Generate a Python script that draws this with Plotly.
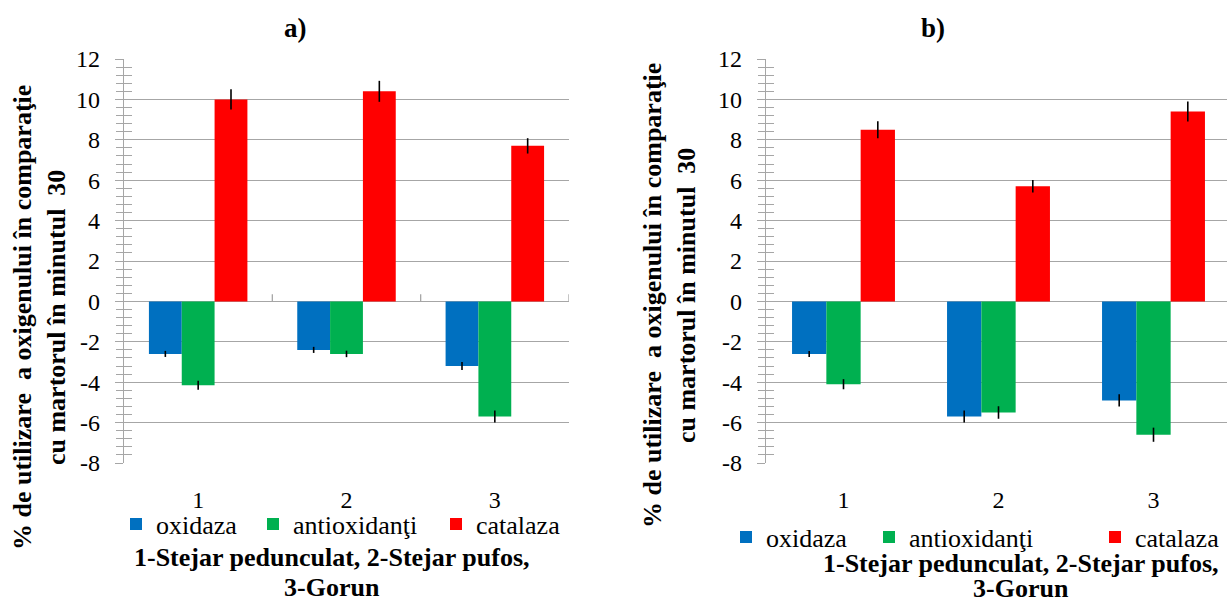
import plotly.graph_objects as go

# ---------------- data ----------------
categories = [1, 2, 3]
category_labels = ["1", "2", "3"]
series_names = ["oxidaza", "antioxidanţi", "catalaza"]
series_colors = ["#0070C0", "#00B050", "#FF0000"]

# panel a)
a_oxidaza = [-2.6, -2.4, -3.2]
a_antiox = [-4.15, -2.6, -5.7]
a_catalaza = [10.0, 10.4, 7.7]
a_err_oxidaza = [0.15, 0.15, 0.2]
a_err_antiox = [0.22, 0.16, 0.3]
a_err_catalaza = [0.5, 0.52, 0.38]

# panel b)
b_oxidaza = [-2.6, -5.7, -4.9]
b_antiox = [-4.1, -5.5, -6.6]
b_catalaza = [8.5, 5.7, 9.4]
b_err_oxidaza = [0.15, 0.3, 0.3]
b_err_antiox = [0.25, 0.31, 0.35]
b_err_catalaza = [0.42, 0.31, 0.5]

y_tick_vals = [12, 10, 8, 6, 4, 2, 0, -2, -4, -6, -8]
y_tick_text = [str(v) for v in y_tick_vals]

ytitle_l1 = "% de utilizare  a oxigenului în comparaţie"
ytitle_l2 = "cu martorul în minutul  30"
xtitle_l1 = "1-Stejar pedunculat, 2-Stejar pufos,"
xtitle_l2 = "3-Gorun"

FONT = "Liberation Serif"
GRID = "#A6A6A6"
W, H = 1227, 603

fig = go.Figure()

panels = [
    dict(xa="x", ya="y", legend="legend",
         vals=[a_oxidaza, a_antiox, a_catalaza],
         errs=[a_err_oxidaza, a_err_antiox, a_err_catalaza],
         lw=[92, 138, 90]),
    dict(xa="x2", ya="y2", legend="legend2",
         vals=[b_oxidaza, b_antiox, b_catalaza],
         errs=[b_err_oxidaza, b_err_antiox, b_err_catalaza],
         lw=[98, 181, 90]),
]

for p in panels:
    for name, color, v, e, lw in zip(series_names, series_colors, p["vals"], p["errs"], p["lw"]):
        fig.add_trace(go.Bar(
            x=categories, y=v, name=name, marker_color=color,
            marker_line_width=0,
            error_y=dict(type="data", array=e, visible=True, color="black",
                         thickness=1.6, width=0),
            xaxis=p["xa"], yaxis=p["ya"], legend=p["legend"], legendwidth=lw,
        ))

# invisible helpers for the overlay (inside-tick) axes
for xa, ya in [("x", "y3"), ("x2", "y4")]:
    fig.add_trace(go.Scatter(x=[categories[0]], y=[0], xaxis=xa, yaxis=ya,
                             mode="markers", marker=dict(opacity=0),
                             showlegend=False, hoverinfo="skip"))

ydom = [1 - 463 / H, 1 - 59 / H]
xdom_a = [124 / W, 569 / W]
xdom_b = [766 / W, 1.0]
yrange = [-8, 12]

yax_common = dict(
    range=yrange, domain=ydom, tickvals=y_tick_vals, ticktext=y_tick_text,
    showgrid=True, gridcolor=GRID, gridwidth=1.3,
    zeroline=True, zerolinecolor=GRID, zerolinewidth=1.3,
    showline=True, linecolor=GRID, linewidth=1.3,
    ticks="outside", ticklen=8, tickcolor=GRID, tickwidth=1.3,
    minor=dict(dtick=0.4, ticks="outside", ticklen=7, tickcolor=GRID,
               tickwidth=1.3, showgrid=False),
    tickfont=dict(family=FONT, size=24, color="black"),
    ticklabelstandoff=10, fixedrange=True, automargin=False,
)
yax_overlay = dict(
    range=yrange, domain=ydom, tickvals=y_tick_vals, showticklabels=False,
    showgrid=False, zeroline=False, showline=False,
    ticks="inside", ticklen=8, tickcolor=GRID, tickwidth=1.3,
    minor=dict(dtick=0.4, ticks="inside", ticklen=8, tickcolor=GRID,
               tickwidth=1.3, showgrid=False),
    automargin=False,
)
xax_common = dict(
    tickvals=categories, ticktext=category_labels,
    showgrid=False, zeroline=False, showline=False, ticks="",
    tickfont=dict(family=FONT, size=24, color="black"),
    ticklabelstandoff=20, fixedrange=True, automargin=False,
)

fig.update_layout(
    width=W, height=H,
    margin=dict(l=0, r=0, t=0, b=0, autoexpand=False),
    paper_bgcolor="white", plot_bgcolor="white",
    barmode="group", bargap=0.336, bargroupgap=0,
    font=dict(family=FONT, color="black"),
    xaxis=dict(domain=xdom_a, anchor="y", range=[0.5, 3.5], **xax_common),
    xaxis2=dict(domain=xdom_b, anchor="y2", range=[0.5, 0.5 + 461 / 155], **xax_common),
    yaxis=dict(anchor="x", **yax_common),
    yaxis2=dict(anchor="x2", **yax_common),
    yaxis3=dict(anchor="x", overlaying="y", side="left", **yax_overlay),
    yaxis4=dict(anchor="x2", overlaying="y2", side="left", **yax_overlay),
    legend=dict(orientation="h", x=116 / W, xanchor="left", y=1 - 524 / H,
                yanchor="middle", font=dict(family=FONT, size=26),
                bgcolor="rgba(0,0,0,0)", traceorder="normal"),
    legend2=dict(orientation="h", x=726 / W, xanchor="left", y=1 - 537 / H,
                 yanchor="middle", font=dict(family=FONT, size=26),
                 bgcolor="rgba(0,0,0,0)", traceorder="normal"),
    showlegend=True,
)

# category boundary ticks on the zero line (panel a)
for c in categories:
    fig.add_shape(type="line", xref="x", yref="y", x0=c + 0.5, x1=c + 0.5,
                  y0=0, y1=0.35, line=dict(color=GRID, width=1.3))

ann = []
# panel titles
ann.append(dict(text="<b>a)</b>", x=295 / W, y=1 - 28 / H, xref="paper", yref="paper",
                showarrow=False, font=dict(family=FONT, size=27), xanchor="center", yanchor="middle"))
ann.append(dict(text="<b>b)</b>", x=933 / W, y=1 - 28 / H, xref="paper", yref="paper",
                showarrow=False, font=dict(family=FONT, size=27), xanchor="center", yanchor="middle"))
# y titles
ytitle = "<b>" + ytitle_l1 + "<br>" + ytitle_l2 + "</b>"
ann.append(dict(text=ytitle, x=39 / W, y=1 - 318 / H, xref="paper", yref="paper",
                textangle=-90, showarrow=False, font=dict(family=FONT, size=26),
                xanchor="center", yanchor="middle"))
ann.append(dict(text=ytitle, x=669 / W, y=1 - 296 / H, xref="paper", yref="paper",
                textangle=-90, showarrow=False, font=dict(family=FONT, size=26),
                xanchor="center", yanchor="middle"))
# x titles (each line placed separately to match the tighter line spacing)
for cx, y1, y2 in [(332, 557, 587), (1021, 563, 588)]:
    ann.append(dict(text="<b>" + xtitle_l1 + "</b>", x=cx / W, y=1 - y1 / H,
                    xref="paper", yref="paper", showarrow=False,
                    font=dict(family=FONT, size=26), xanchor="center", yanchor="middle"))
    ann.append(dict(text="<b>" + xtitle_l2 + "</b>", x=cx / W, y=1 - y2 / H,
                    xref="paper", yref="paper", showarrow=False,
                    font=dict(family=FONT, size=26), xanchor="center", yanchor="middle"))
fig.update_layout(annotations=ann)

fig.write_html("out.html")
